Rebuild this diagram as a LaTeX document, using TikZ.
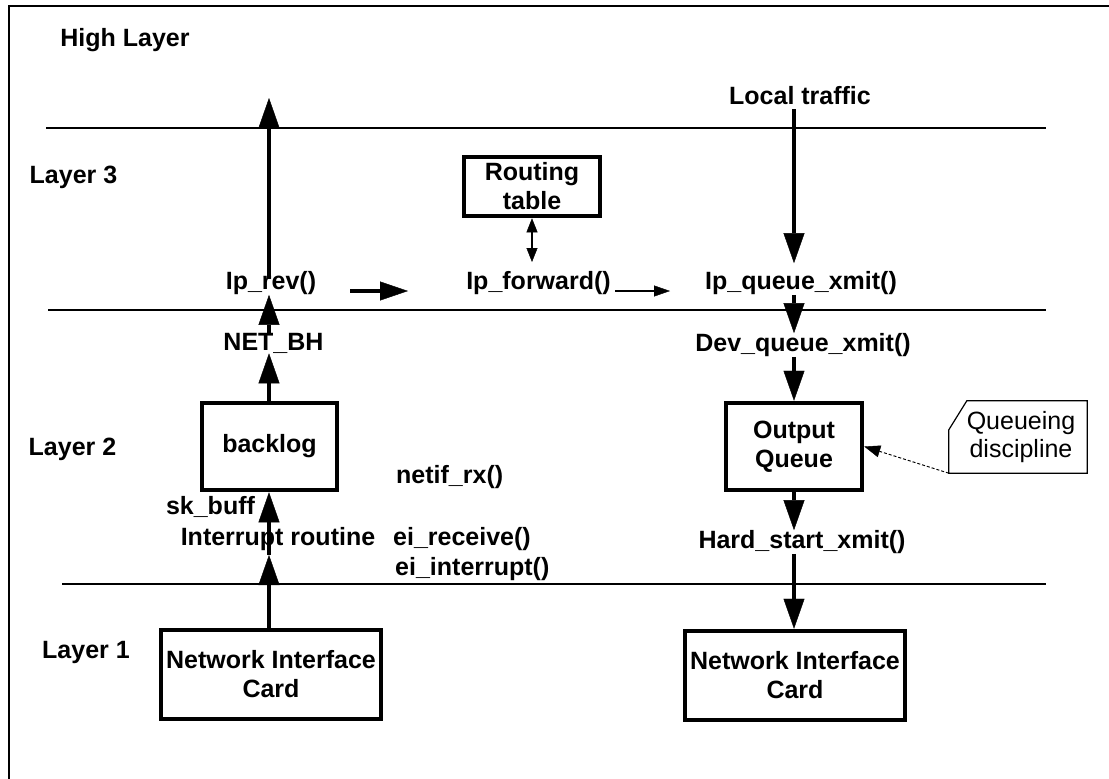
\documentclass[tikz,border=0pt]{standalone}
\usepackage{fontspec}
\setmainfont{Liberation Sans}
\usetikzlibrary{arrows.meta}
\begin{document}
\begin{tikzpicture}[x=1pt,y=-1pt,
  lbl/.style={font=\bfseries\fontsize{25}{29}\selectfont, inner sep=0pt, align=center},
  box/.style={draw, line width=4.5pt, font=\bfseries\fontsize{25}{29}\selectfont,
              align=center, inner sep=0pt},
  layerline/.style={line width=1.2pt},
  fatarrow/.style={line width=4pt, -{Triangle[length=30pt,width=21pt,line width=0.4pt]}},
  fwdarrow/.style={line width=4pt, -{Triangle[length=28pt,width=19pt,line width=0.4pt]}},
  slimarrow/.style={line width=1.3pt, -{Triangle[length=16pt,width=11pt,line width=0.4pt]}},
  dblarrow/.style={line width=1.2pt, {Triangle[length=14pt,width=11pt,line width=0.4pt]}-{Triangle[length=14pt,width=11pt,line width=0.4pt]}},
  dasharrow/.style={line width=1pt, dash pattern=on 3pt off 2pt,
                    -{Triangle[length=16pt,width=12pt,line width=0.4pt]}}
]
\useasboundingbox (0,0) rectangle (1109,779);

% page frame (top and left edges)
\draw[line width=1.5pt] (1109,6) -- (9,6) -- (9,779);

% layer separators
\draw[layerline] (46,128) -- (1046,128);
\draw[layerline] (48,310) -- (1046,310);
\draw[layerline] (62,584) -- (1046,584);

% layer names
\node[lbl] (hl) at (125,40) {High Layer};
\node[lbl] (l3) at (73.5,177) {Layer 3};
\node[lbl] (l2) at (72.5,449) {Layer 2};
\node[lbl] (l1) at (86,652) {Layer 1};

% boxes
\node[box, minimum width=135pt, minimum height=87pt] (backlog) at (269.5,446.5) {backlog};
\node[box, minimum width=136pt, minimum height=59pt] (rt) at (532,186.5) {Routing\\table};
\node[box, minimum width=136pt, minimum height=87pt] (outq) at (794,446.5) {Output\\Queue};
\node[box, minimum width=220pt, minimum height=89pt] (nicl) at (271,674.5) {Network Interface\\Card};
\node[box, minimum width=220pt, minimum height=89pt] (nicr) at (795,675.5) {Network Interface\\Card};

% function labels
\node[lbl] (iprev) at (271,283) {Ip\_rev()};
\node[lbl] (netbh) at (273.5,343) {NET\_BH};
\node[lbl] (skbuff) at (210.5,507) {sk\_buff};
\node[lbl] (irq) at (278,539) {Interrupt routine};
\node[lbl, anchor=west] (netif) at (396,477) {netif\_rx()};
\node[lbl, anchor=west] (eirecv) at (393,539) {ei\_receive()};
\node[lbl, anchor=west] (eiint) at (395,569) {ei\_interrupt()};
\node[lbl] (ipfwd) at (538.5,283) {Ip\_forward()};
\node[lbl] (lt) at (800,96) {Local traffic};
\node[lbl] (ipq) at (801,283) {Ip\_queue\_xmit()};
\node[lbl] (devq) at (803,345) {Dev\_queue\_xmit()};
\node[lbl] (hard) at (802,542) {Hard\_start\_xmit()};

% callout
\node[font=\fontsize{25}{28}\selectfont, align=center, inner sep=0pt,
      minimum width=138pt, minimum height=72pt] (qd) at (1018,437) {\hspace*{6pt}Queueing\\\hspace*{6pt}discipline};
\draw[line width=1.2pt] (qd.south west) -- (qd.south east) -- (qd.north east)
  -- ([xshift=18pt]qd.north west) -- ([yshift=-29pt]qd.north west) -- cycle;

% helper points
\coordinate (colL) at (269,0);
\coordinate (colR) at (794,0);
\coordinate (upTip) at (269,98);
\coordinate (irqTip) at (269,555);
\coordinate (fwA) at (350,291);
\coordinate (fwB) at (408,291);
\coordinate (fwC) at (615,291);
\coordinate (fwD) at (670,291);
\coordinate (rtTip) at (532,262);

% receive path
\draw[fatarrow, shorten <=-8pt] (iprev.north -| colL) -- (upTip);
\draw[fatarrow] (netbh.north -| colL) -- (iprev.south -| colL);
\draw[fatarrow] (backlog.north -| colL) -- (netbh.south -| colL);
\draw[fatarrow] (nicl.north -| colL) -- (irqTip);
\draw[fatarrow] (irqTip) -- (backlog.south -| colL);

% forwarding
\draw[fwdarrow] (fwA) -- (fwB);
\draw[slimarrow] (fwC) -- (fwD);
\draw[dblarrow] (rt.south) -- (rtTip);

% transmit path
\draw[fatarrow, shorten >=8pt, shorten <=4pt] (lt.south -| colR) -- (ipq.north -| colR);
\draw[fatarrow] (ipq.south -| colR) -- (devq.north -| colR);
\draw[fatarrow] (devq.south -| colR) -- (outq.north);
\draw[fatarrow] (outq.south) -- (hard.north -| colR);
\draw[fatarrow] (hard.south -| colR) -- (nicr.north -| colR);

% queueing discipline pointer
\draw[dasharrow] (qd.south west) -- (outq.east);
\end{tikzpicture}
\end{document}
